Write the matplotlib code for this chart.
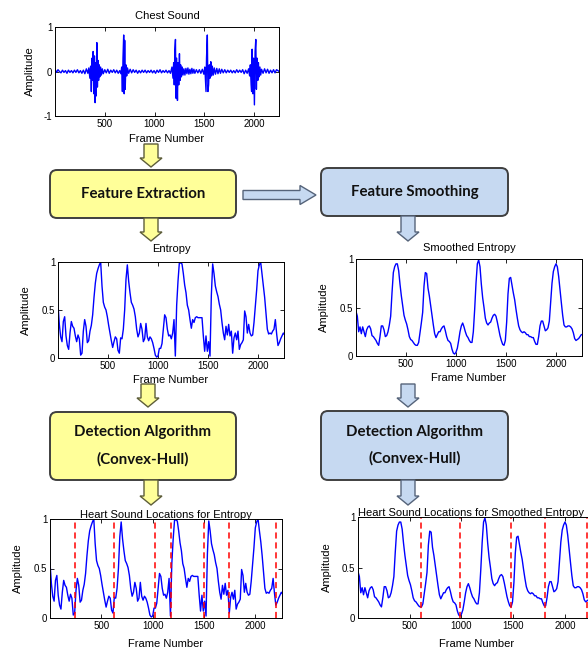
import numpy as np
import matplotlib
matplotlib.use('Agg')
import matplotlib.pyplot as plt
from matplotlib.patches import FancyBboxPatch, Polygon

plt.rcParams['font.family'] = ['Liberation Sans', 'DejaVu Sans']

# ---- data ----
chest_frames = [0, 15, 30, 45, 60, 75, 90, 105, 120, 135, 150, 165, 180, 195, 210, 225, 240, 255, 270, 285, 300, 315, 330, 340,
                350, 358, 365, 372, 378, 383, 390, 396, 403, 408, 414, 420, 426, 432, 438, 444, 450, 458, 466, 475, 485,
                500, 515, 530, 545, 560, 575, 590, 605, 620, 635, 650, 662,
                670, 677, 683, 690, 695, 700, 705, 712, 720, 728,
                740, 755, 770, 785, 800, 815, 830, 845, 860, 875, 890, 905, 920, 935, 950, 965, 980, 995, 1010, 1025,
                1040, 1055, 1070, 1085, 1100, 1115, 1130, 1145, 1160, 1175,
                1185, 1192, 1198, 1204, 1210, 1215, 1222, 1230, 1236, 1243, 1250, 1256, 1262, 1270, 1278, 1286,
                1295, 1305, 1315, 1325, 1335, 1345, 1355, 1365, 1375, 1385, 1395, 1405, 1420, 1435, 1450, 1465, 1480, 1495, 1505,
                1512, 1517, 1522, 1530, 1536, 1543, 1550, 1557, 1565, 1572, 1580, 1590,
                1600, 1612, 1625, 1637, 1650, 1662, 1675, 1690, 1705, 1720, 1735, 1750, 1765, 1780, 1795, 1810, 1825, 1840,
                1855, 1870, 1885, 1900, 1915, 1930, 1945, 1955,
                1962, 1970, 1975, 1980, 1988, 1995, 2003, 2010, 2017, 2023, 2030, 2037, 2043, 2050, 2058, 2066,
                2075, 2090, 2105, 2120, 2135, 2150, 2165, 2180, 2195, 2210, 2225, 2240, 2250]
chest_amp = [0.05, -0.02, 0.04, 0.0, -0.03, 0.03, -0.02, 0.02, -0.04, 0.03, -0.02, 0.02, -0.03, 0.03, -0.02, 0.04, -0.03, 0.02, -0.04, 0.03, -0.05, 0.06, -0.04, 0.08,
             -0.15, 0.12, -0.45, 0.3, -0.2, 0.45, -0.5, 0.35, -0.7, 0.2, -0.55, 0.65, -0.35, 0.25, -0.2, 0.15, -0.12, 0.1, -0.08, 0.06, -0.05,
             0.04, -0.03, 0.05, -0.04, 0.03, -0.02, 0.04, -0.03, 0.03, -0.04, 0.02, -0.05,
             0.1, -0.45, 0.3, 0.82, -0.5, 0.7, -0.4, 0.15, -0.1, 0.08,
             -0.04, 0.05, -0.03, 0.04, -0.02, 0.03, -0.04, 0.02, -0.03, 0.03, -0.02, 0.03, -0.03, 0.02, -0.02, 0.03, -0.03, 0.02, -0.04, 0.03,
             -0.02, 0.04, -0.03, 0.02, -0.02, 0.03, -0.03, 0.02, -0.04, 0.1,
             -0.15, 0.2, -0.3, 0.5, 0.72, -0.6, 0.3, -0.65, 0.2, -0.3, 0.4, -0.2, 0.15, -0.12, 0.1, -0.08,
             0.06, -0.08, 0.07, -0.05, 0.08, -0.06, 0.05, -0.05, 0.07, -0.04, 0.05, -0.04, 0.04, -0.03, 0.04, -0.04, 0.05, -0.06, 0.1,
             -0.2, -0.45, 0.3, 0.82, -0.45, -0.3, 0.15, -0.15, 0.22, -0.1, 0.12, -0.08,
             0.08, -0.06, 0.07, -0.05, 0.06, -0.04, 0.05, -0.03, 0.04, -0.03, 0.03, -0.02, 0.03, -0.03, 0.02, -0.03, 0.04, -0.02,
             0.03, -0.02, 0.04, -0.05, 0.03, -0.04, 0.06, -0.1,
             0.15, -0.3, -0.45, 0.5, -0.5, 0.3, -0.75, 0.45, 0.72, -0.4, 0.3, -0.2, 0.2, -0.12, 0.1, -0.08,
             0.05, -0.04, 0.06, -0.03, 0.05, -0.04, 0.03, -0.03, 0.04, -0.03, 0.04, 0.02, 0.0]

frame_step = 40 / 3

entropy = [0.56, 0.35, 0.22, 0.17, 0.38, 0.43, 0.23, 0.13, 0.09, 0.26, 0.38, 0.33, 0.31, 0.23, 0.17, 0.24, 0.20, 0.03, 0.05, 0.28,
           0.40, 0.33, 0.16, 0.18, 0.28, 0.34, 0.45, 0.63, 0.78, 0.88, 0.93, 0.97, 1.00, 0.75, 0.58, 0.53, 0.50, 0.43, 0.34, 0.26,
           0.18, 0.11, 0.17, 0.22, 0.20, 0.08, 0.05, 0.21, 0.20, 0.30, 0.50, 0.82, 0.97, 0.80, 0.68, 0.58, 0.55, 0.51, 0.43, 0.30,
           0.22, 0.26, 0.36, 0.30, 0.17, 0.20, 0.36, 0.22, 0.18, 0.22, 0.20, 0.16, 0.10, 0.03, 0.01, 0.02, 0.10, 0.10, 0.15, 0.30,
           0.45, 0.42, 0.30, 0.23, 0.24, 0.20, 0.26, 0.40, 0.02, 0.55, 0.80, 0.99, 0.99, 0.98, 0.88, 0.76, 0.68, 0.55, 0.50, 0.40,
           0.31, 0.40, 0.37, 0.42, 0.43, 0.42, 0.42, 0.42, 0.42, 0.23, 0.07, 0.23, 0.07, 0.17, 0.02, 0.65, 0.98, 0.88, 0.75, 0.69,
           0.64, 0.56, 0.50, 0.37, 0.26, 0.19, 0.33, 0.24, 0.35, 0.23, 0.28, 0.05, 0.21, 0.26, 0.19, 0.28, 0.09, 0.14, 0.16, 0.19,
           0.49, 0.43, 0.26, 0.35, 0.26, 0.23, 0.24, 0.37, 0.54, 0.71, 0.91, 0.97, 1.00, 0.88, 0.77, 0.63, 0.46, 0.30, 0.25, 0.26,
           0.25, 0.28, 0.30, 0.40, 0.25, 0.13, 0.16, 0.20, 0.23, 0.26, 0.24]

smoothed = [0.46, 0.41, 0.25, 0.30, 0.23, 0.30, 0.25, 0.20, 0.27, 0.30, 0.31, 0.28, 0.21, 0.20, 0.18, 0.16, 0.13, 0.11, 0.20, 0.31,
            0.31, 0.27, 0.20, 0.21, 0.25, 0.32, 0.41, 0.65, 0.86, 0.92, 0.95, 0.95, 0.88, 0.74, 0.62, 0.52, 0.42, 0.37, 0.33, 0.27,
            0.20, 0.17, 0.16, 0.14, 0.12, 0.11, 0.11, 0.14, 0.24, 0.34, 0.45, 0.72, 0.86, 0.85, 0.70, 0.62, 0.52, 0.42, 0.32, 0.23,
            0.19, 0.22, 0.25, 0.25, 0.28, 0.30, 0.31, 0.26, 0.20, 0.16, 0.15, 0.13, 0.07, 0.03, 0.02, 0.04, 0.08, 0.16, 0.25, 0.31,
            0.34, 0.30, 0.25, 0.21, 0.19, 0.16, 0.14, 0.14, 0.25, 0.48, 0.75, 0.95, 0.99, 0.92, 0.74, 0.60, 0.50, 0.39, 0.34, 0.32,
            0.34, 0.35, 0.39, 0.42, 0.43, 0.41, 0.35, 0.28, 0.21, 0.16, 0.12, 0.11, 0.16, 0.35, 0.64, 0.80, 0.81, 0.73, 0.65, 0.58,
            0.48, 0.39, 0.31, 0.27, 0.25, 0.24, 0.25, 0.24, 0.22, 0.22, 0.20, 0.20, 0.19, 0.19, 0.15, 0.12, 0.12, 0.20, 0.31, 0.36,
            0.36, 0.31, 0.26, 0.27, 0.29, 0.36, 0.55, 0.75, 0.87, 0.92, 0.95, 0.92, 0.82, 0.68, 0.55, 0.42, 0.32, 0.30, 0.30, 0.31,
            0.31, 0.30, 0.28, 0.24, 0.18, 0.16, 0.17, 0.18, 0.20, 0.22]

entropy_locs = [240, 625, 1020, 1178, 1500, 1745, 2205]
smoothed_locs = [605, 985, 1480, 1805, 2210]

xticks = [500, 1000, 1500, 2000]

entropy_frames = np.arange(len(entropy)) * frame_step
smoothed_frames = np.arange(len(smoothed)) * frame_step

# ---- figure ----
W, H = 588, 652
fig = plt.figure(figsize=(W / 100, H / 100), dpi=100)

# overlay in pixel coordinates for the flow diagram
ov = fig.add_axes([0, 0, 1, 1])
ov.set_xlim(0, W)
ov.set_ylim(H, 0)
ov.axis('off')

YEL, YEL_EC = '#FFFF99', '#5e5e3a'
BLU, BLU_EC = '#C6D9F1', '#56647a'
BOX_EC = '#3f3f3f'


def box(x0, y0, x1, y1, fc, lines):
    p = FancyBboxPatch((x0, y0), x1 - x0, y1 - y0, boxstyle='round,pad=0,rounding_size=7',
                       fc=fc, ec=BOX_EC, lw=1.4)
    ov.add_patch(p)
    ov.text((x0 + x1) / 2, (y0 + y1) / 2, lines, ha='center', va='center', family='Lato',
            weight='bold', fontsize=10.8, linespacing=2.1, color='#111111')


def down_arrow(cx, y0, y1, fc, ec, sw=14, hw=22, hl=9):
    pts = [(cx - sw / 2, y0), (cx + sw / 2, y0), (cx + sw / 2, y1 - hl), (cx + hw / 2, y1 - hl),
           (cx, y1), (cx - hw / 2, y1 - hl), (cx - sw / 2, y1 - hl)]
    ov.add_patch(Polygon(pts, closed=True, fc=fc, ec=ec, lw=1.0))


def right_arrow(x0, x1, cy, fc, ec, sw=9, hw=19, hl=16):
    pts = [(x0, cy - sw / 2), (x1 - hl, cy - sw / 2), (x1 - hl, cy - hw / 2), (x1, cy),
           (x1 - hl, cy + hw / 2), (x1 - hl, cy + sw / 2), (x0, cy + sw / 2)]
    ov.add_patch(Polygon(pts, closed=True, fc=fc, ec=ec, lw=1.0))


box(50, 170, 236, 218, YEL, 'Feature Extraction')
box(321, 168, 508, 216, BLU, 'Feature Smoothing')
box(50, 412, 236, 480, YEL, 'Detection Algorithm\n(Convex-Hull)')
box(321, 411, 508, 480, BLU, 'Detection Algorithm\n(Convex-Hull)')

down_arrow(151, 144, 167, YEL, YEL_EC)
down_arrow(151, 218, 241, YEL, YEL_EC)
down_arrow(148, 384, 407, YEL, YEL_EC)
down_arrow(151, 480, 505, YEL, YEL_EC)
down_arrow(408, 216, 241, BLU, BLU_EC)
down_arrow(408, 384, 407, BLU, BLU_EC)
down_arrow(408, 480, 505, BLU, BLU_EC)
right_arrow(243, 316, 195, BLU, BLU_EC)


def px_axes(l, t, r, b):
    return fig.add_axes([l / W, 1 - b / H, (r - l) / W, (b - t) / H])


def style(ax, title, ylim, yticks, yticklabels, ylab_px, xlab_px, title_pad, title_loc='center'):
    l, b, w, h = ax.get_position().bounds
    ax.set_xlim(0, 2260)
    ax.set_ylim(*ylim)
    ax.set_xticks(xticks)
    ax.set_yticks(yticks)
    ax.set_yticklabels(yticklabels)
    ax.tick_params(direction='in', top=True, right=True, length=3, width=0.6,
                   labelsize=7, pad=2)
    for s in ax.spines.values():
        s.set_linewidth(0.7)
    ax.set_title(title, fontsize=8, pad=title_pad, loc=title_loc)
    ax.set_ylabel('Amplitude', fontsize=8)
    ax.set_xlabel('Frame Number', fontsize=8)
    # label positions from pixel offsets
    ax.yaxis.set_label_coords(-ylab_px / (w * W), 0.5)
    ax.xaxis.set_label_coords(0.5, -xlab_px / (h * H))


ax1 = px_axes(55, 27, 279, 116)
ax1.plot(chest_frames, chest_amp, color='#0000FF', lw=1.0)
style(ax1, 'Chest Sound', (-1, 1), [-1, 0, 1], ['-1', '0', '1'], 20, 18, 6)
ax1.set_xlim(0, 2250)

ax2 = px_axes(58, 262, 284, 358)
ax2.plot(entropy_frames, entropy, color='#0000FF', lw=1.0)
style(ax2, 'Entropy', (0, 1), [0, 0.5, 1], ['0', '0.5', '1'], 27, 17, 7)

ax3 = px_axes(356, 259, 582, 356)
ax3.plot(smoothed_frames, smoothed, color='#0000FF', lw=1.0)
style(ax3, 'Smoothed Entropy', (0, 1), [0, 0.5, 1], ['0', '0.5', '1'], 27, 17, 6)

ax4 = px_axes(50, 519, 282, 618)
ax4.plot(entropy_frames, entropy, color='#0000FF', lw=1.0)
for loc in entropy_locs:
    ax4.axvline(loc, color='#FF0000', ls=(0, (4, 2.5)), lw=1.1)
style(ax4, 'Heart Sound Locations for Entropy', (0, 1), [0, 0.5, 1], ['0', '0.5', '1'], 27, 21, 1)

ax5 = px_axes(358, 517, 596, 618)
ax5.plot(smoothed_frames, smoothed, color='#0000FF', lw=1.0)
for loc in smoothed_locs:
    ax5.axvline(loc, color='#FF0000', ls=(0, (4, 2.5)), lw=1.1)
style(ax5, 'Heart Sound Locations for Smoothed Entropy', (0, 1), [0, 0.5, 1], ['0', '0.5', '1'], 26, 21, 1,
      title_loc='left')
ax5.set_xlim(0, 2300)

fig.savefig('out.png', dpi=100)
